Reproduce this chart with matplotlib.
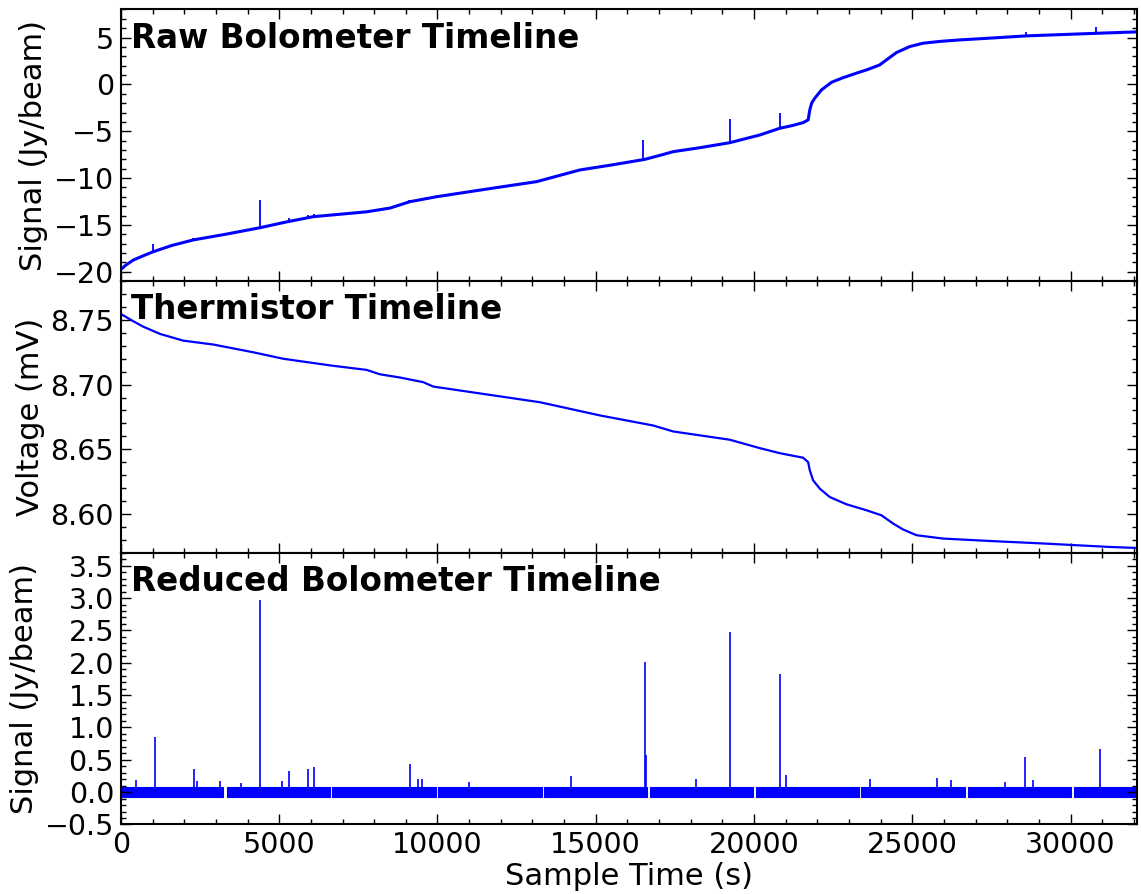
import numpy as np
import matplotlib
matplotlib.use('Agg')
import matplotlib.pyplot as plt
from matplotlib.ticker import MultipleLocator

# raw bolometer timeline
raw_t = [0, 150, 390, 700, 1020, 1600, 2285, 3300, 4390, 5200, 6075, 7760, 8500, 9128,
         9970, 11500, 13130, 14500, 15500, 16550, 17000, 17445, 18300, 19235, 20183,
         20815, 21200, 21550, 21710, 21763, 21820, 21920, 22130, 22450, 22800, 23235,
         23600, 23970, 24185, 24500, 24920, 25340, 25900, 26500, 27500, 28600, 30920, 32030]
raw_y = [-19.75, -19.3, -18.75, -18.3, -17.86, -17.2, -16.6, -16.0, -15.3, -14.7, -14.12,
         -13.6, -13.2, -12.52, -11.99, -11.2, -10.38, -9.13, -8.6, -8.0, -7.6, -7.18,
         -6.75, -6.22, -5.4, -4.68, -4.4, -4.08, -3.79, -2.72, -2.0, -1.47, -0.59, 0.23,
         0.7, 1.2, 1.6, 2.08, 2.62, 3.4, 4.04, 4.4, 4.6, 4.75, 4.95, 5.18, 5.47, 5.6]
raw_spike_t = [1020, 2285, 4390, 5300, 5900, 6100, 9100, 16500, 19235, 20815, 28600, 30800]
raw_spike_base = [-17.86, -16.6, -15.3, -14.5, -14.2, -14.1, -12.55, -8.0, -6.22, -4.68, 5.18, 5.45]
raw_spike_top = [-17.05, -16.35, -12.35, -14.25, -13.95, -13.85, -12.3, -5.93, -3.69, -3.08, 5.64, 6.18]

# thermistor timeline
th_t = [0, 390, 705, 1232, 1968, 2915, 4180, 5126, 6655, 7760, 8180, 8812, 9550, 9865,
        13234, 15130, 16815, 17445, 19235, 20183, 20815, 21550, 21710, 21763, 21868,
        22078, 22394, 22920, 23550, 24025, 24395, 24710, 25130, 25970, 27550, 29130,
        31240, 32030]
th_v = [8.7546, 8.749, 8.7448, 8.7392, 8.734, 8.731, 8.725, 8.720, 8.7147, 8.7114,
        8.708, 8.7055, 8.7019, 8.6985, 8.6864, 8.6762, 8.6684, 8.6638, 8.6574, 8.6509,
        8.647, 8.6435, 8.6401, 8.6337, 8.626, 8.6196, 8.6131, 8.6075, 8.6029, 8.599,
        8.5926, 8.588, 8.5836, 8.581, 8.579, 8.5772, 8.5745, 8.5738]

# reduced timeline: data segments (start, end), noise half-width, spikes
seg_start = [0, 3340, 6675, 10022, 13370, 16710, 20055, 23395, 26763, 30110]
seg_end = [3230, 6600, 9940, 13290, 16625, 19970, 23320, 26660, 30027, 32060]
noise_hw = 0.08
red_spike_t = [464, 1074, 2306, 2390, 3127, 3780, 4390, 5075, 5306, 5897, 6105, 9128,
               9392, 9497, 10990, 14203, 16550, 16590, 18183, 19235, 20815, 21004,
               23657, 25783, 26238, 27940, 28563, 28815, 30944]
red_spike_top = [0.19, 0.857, 0.36, 0.165, 0.17, 0.14, 2.97, 0.17, 0.33, 0.36, 0.39,
                 0.436, 0.21, 0.21, 0.16, 0.243, 2.01, 0.57, 0.2, 2.48, 1.83, 0.27,
                 0.2, 0.22, 0.19, 0.15, 0.545, 0.18, 0.66]

plt.rcParams['font.family'] = 'DejaVu Sans'
plt.rcParams['axes.linewidth'] = 1.5

fig = plt.figure(figsize=(11.41, 8.94), dpi=100)
left, right, top, bottom = 0.106, 0.9965, 0.9894, 0.0778
h = (top - bottom) / 3.0
ax1 = fig.add_axes([left, bottom + 2 * h, right - left, h])
ax2 = fig.add_axes([left, bottom + h, right - left, h], sharex=ax1)
ax3 = fig.add_axes([left, bottom, right - left, h], sharex=ax1)

ax1.plot(raw_t, raw_y, 'b-', lw=2.2)
ax1.vlines(raw_spike_t, raw_spike_base, raw_spike_top, colors='b', lw=1.3)
ax1.set_ylim(-21, 8)
ax1.yaxis.set_major_locator(MultipleLocator(5))
ax1.yaxis.set_minor_locator(MultipleLocator(1))
ax1.set_ylabel('Signal (Jy/beam)', fontsize=22)

ax2.plot(th_t, th_v, 'b-', lw=1.6)
ax2.set_ylim(8.57, 8.78)
ax2.yaxis.set_major_locator(MultipleLocator(0.05))
ax2.yaxis.set_minor_locator(MultipleLocator(0.01))
ax2.set_ylabel('Voltage (mV)', fontsize=22)

for s, e in zip(seg_start, seg_end):
    ax3.fill_between([s, e], [-noise_hw, -noise_hw], [noise_hw, noise_hw],
                     color='b', lw=0.8)
ax3.vlines(red_spike_t, 0, red_spike_top, colors='b', lw=1.2)
ax3.set_ylim(-0.5, 3.7)
ax3.yaxis.set_major_locator(MultipleLocator(0.5))
ax3.yaxis.set_minor_locator(MultipleLocator(0.1))
ax3.set_ylabel('Signal (Jy/beam)', fontsize=22)
ax3.set_xlabel('Sample Time (s)', fontsize=22, labelpad=2)

ax1.set_xlim(0, 32100)
ax1.xaxis.set_major_locator(MultipleLocator(5000))
ax1.xaxis.set_minor_locator(MultipleLocator(1000))

titles = ['Raw Bolometer Timeline', 'Thermistor Timeline', 'Reduced Bolometer Timeline']
for ax, ttl in zip([ax1, ax2, ax3], titles):
    ax.tick_params(which='both', direction='in', top=True, right=True, labelsize=20.5)
    ax.tick_params(which='major', length=7, width=1, pad=5)
    ax.tick_params(which='minor', length=3.5, width=1)
    ax.text(0.01, 0.86, ttl, transform=ax.transAxes, fontsize=23.5, fontweight='bold')
for ax in [ax1, ax2]:
    plt.setp(ax.get_xticklabels(), visible=False)

fig.savefig('out.png', dpi=100)
